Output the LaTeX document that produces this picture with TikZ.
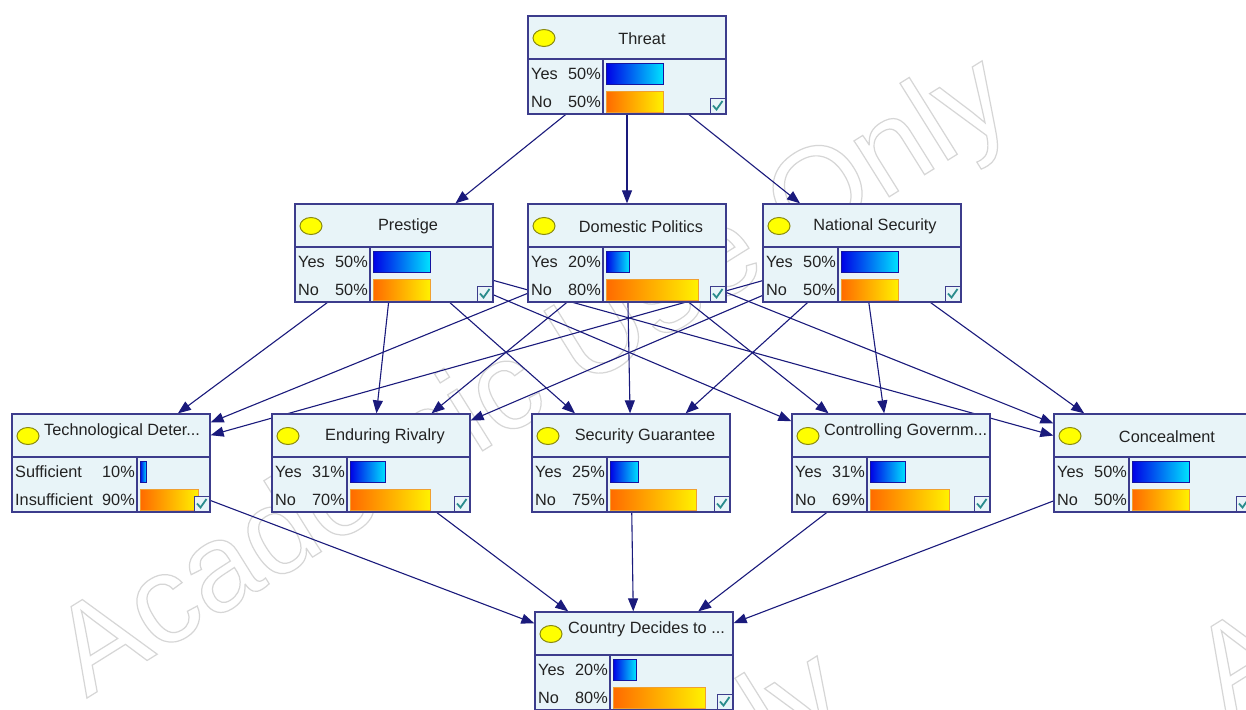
\documentclass[tikz,border=0pt]{standalone}
\usepackage{fontspec}
\setmainfont{Liberation Sans}
\usetikzlibrary{arrows.meta,backgrounds}
\definecolor{nodefill}{HTML}{E8F4F8}
\definecolor{nodeborder}{HTML}{3C3C8C}
\definecolor{edgecol}{HTML}{1A1A7C}
\definecolor{txtcol}{HTML}{222222}
\definecolor{ovalfill}{HTML}{FFFF00}
\definecolor{ovalline}{HTML}{8A8A10}
\definecolor{yesL}{HTML}{0000E6}
\definecolor{yesR}{HTML}{00E4FF}
\definecolor{yesB}{HTML}{1414A0}
\definecolor{noL}{HTML}{FF6A00}
\definecolor{noR}{HTML}{FFF200}
\definecolor{noB}{HTML}{F0A030}
\definecolor{checkcol}{HTML}{2A8C8C}
\definecolor{wmark}{HTML}{D6D6D6}
\tikzset{
  bnframe/.style={draw=nodeborder, fill=nodefill, line width=1.3pt, rectangle,
    minimum width=198pt, minimum height=98pt, inner sep=0pt},
  bnline/.style={draw=nodeborder, line width=1.2pt},
  bnoval/.style={draw=ovalline, fill=ovalfill, line width=1pt},
  bnstate/.style={text=txtcol, inner sep=0pt},
  bntitle/.style={text=txtcol, inner sep=0pt},
  bnyes/.style={left color=yesL, right color=yesR},
  bnyesb/.style={draw=yesB, line width=0.9pt},
  bnno/.style={left color=noL, right color=noR},
  bnnob/.style={draw=noB, line width=0.9pt},
  bnbox/.style={draw=nodeborder, fill=nodefill, line width=1pt},
  bncheck/.style={draw=checkcol, line width=1.8pt},
  bnedge/.style={draw=edgecol, line width=1.1pt, -{Triangle[length=13pt,width=10pt]}},
  wmtext/.style={text=wmark, font=\fontsize{125}{125}\selectfont, rotate=32, inner sep=0pt}
}
\newcommand\wmstring{\special{pdf:code 1 Tr 1.2 w}Academic Use Only\special{pdf:code 0 Tr}}
% #1 name, #2 left, #3 top, #4 label column width, #5 state1, #6 pct1, #7 state2, #8 pct2
\newcommand\bnnode[8]{%
  \node[bnframe] (#1) at (#2+99,#3+49) {};
  \draw[bnline] (#2,#3+43) -- (#2+198,#3+43);
  \draw[bnline] (#2+#4,#3+43) -- (#2+#4,#3+98);
  \draw[bnoval] (#2+16,#3+22) ellipse [x radius=11pt, y radius=8.5pt];
  \node[bnstate,anchor=west] (#1-s1) at (#2+3,#3+57.5) {#5};
  \node[bnstate,anchor=east] (#1-p1) at (#2+#4-2,#3+57.5) {#6\%};
  \node[bnstate,anchor=west] (#1-s2) at (#2+3,#3+86) {#7};
  \node[bnstate,anchor=east] (#1-p2) at (#2+#4-2,#3+86) {#8\%};
  \shade[bnyes] (#2+#4+3,#3+47) rectangle ({#2+#4+3+(190-#4)*#6/100},#3+68);
  \draw[bnyesb] (#2+#4+3,#3+47) rectangle ({#2+#4+3+(190-#4)*#6/100},#3+68);
  \shade[bnno] (#2+#4+3,#3+75) rectangle ({#2+#4+3+(190-#4)*#8/100},#3+96);
  \draw[bnnob] (#2+#4+3,#3+75) rectangle ({#2+#4+3+(190-#4)*#8/100},#3+96);
  \draw[bnbox] (#2+182,#3+82) rectangle (#2+197,#3+97);
  \draw[bncheck] (#2+185,#3+89.5) -- (#2+188.5,#3+93.5) -- (#2+194.5,#3+85);
}
\begin{document}
\begin{tikzpicture}[x=1pt,y=-1pt,font=\fontsize{16.3}{19}\selectfont]
\useasboundingbox (0,0) rectangle (1246,709);
\clip (0,0) rectangle (1246,709);

\bnnode{threat}{528}{16}{75}{Yes}{50}{No}{50}
\node[bntitle] (threat-t) at (528+114,16+22.5) {Threat};

\bnnode{prestige}{295}{204}{75}{Yes}{50}{No}{50}
\node[bntitle] (prestige-t) at (295+113,204+22.5) {Prestige};

\bnnode{domestic}{528}{204}{75}{Yes}{20}{No}{80}
\node[bntitle] (domestic-t) at (528+113,204+22.5) {Domestic Politics};

\bnnode{national}{763}{204}{75}{Yes}{50}{No}{50}
\node[bntitle] (national-t) at (763+112,204+22.5) {National Security};

\bnnode{tech}{12}{414}{125}{Sufficient}{10}{Insufficient}{90}
\node[bntitle,anchor=west] (tech-t) at (12+32,414+17) {Technological Deter...};

\bnnode{rivalry}{272}{414}{75}{Yes}{31}{No}{70}
\node[bntitle] (rivalry-t) at (272+113,414+22.5) {Enduring Rivalry};

\bnnode{security}{532}{414}{75}{Yes}{25}{No}{75}
\node[bntitle] (security-t) at (532+113,414+22.5) {Security Guarantee};

\bnnode{control}{792}{414}{75}{Yes}{31}{No}{69}
\node[bntitle,anchor=west] (control-t) at (792+32,414+17) {Controlling Governm...};

\bnnode{conceal}{1054}{414}{75}{Yes}{50}{No}{50}
\node[bntitle] (conceal-t) at (1054+113,414+22.5) {Concealment};

\bnnode{country}{535}{612}{75}{Yes}{20}{No}{80}
\node[bntitle,anchor=west] (country-t) at (535+33,612+17) {Country Decides to ...};

\begin{pgfonlayer}{background}
  \fill[white] (0,0) rectangle (1246,709);
  \begin{scope}
    \clip (0,0) rectangle (1246,709);
    \node[wmtext] (wm1) at (535,380) {\wmstring};
    \node[wmtext] (wm2) at (1675,400) {\wmstring};
    \node[wmtext] (wm3) at (370,975) {\wmstring};
  \end{scope}

  \draw[bnedge] (threat) -- (prestige);
  \draw[bnedge] (threat) -- (domestic);
  \draw[bnedge] (threat) -- (national);
  \foreach \s in {prestige,domestic,national}{
    \foreach \t in {tech,rivalry,security,control,conceal}{
      \draw[bnedge] (\s) -- (\t);
    }
  }
  \foreach \s in {tech,rivalry,security,control,conceal}{
    \draw[bnedge] (\s) -- (country);
  }
\end{pgfonlayer}
\end{tikzpicture}
\end{document}
